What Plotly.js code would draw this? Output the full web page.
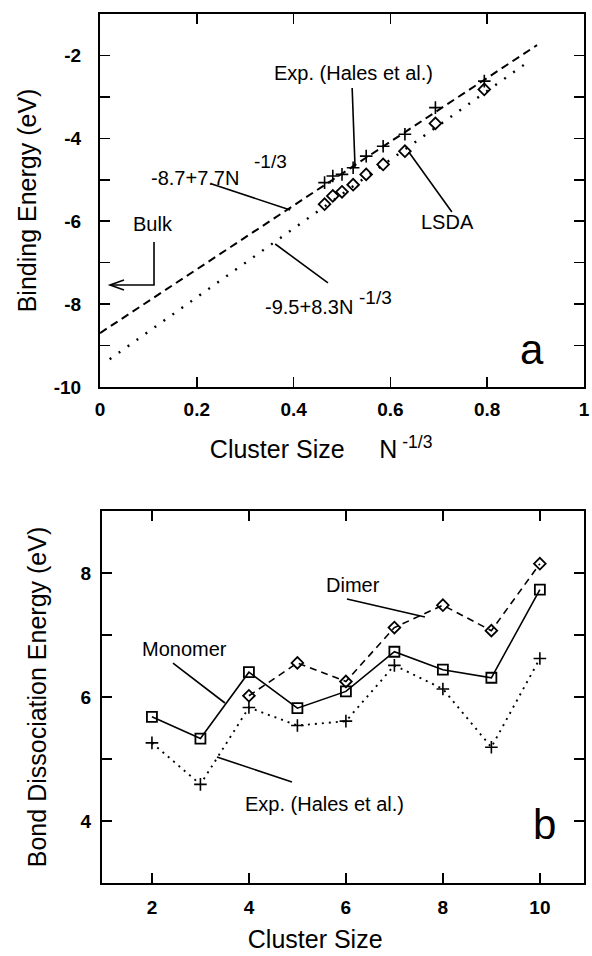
<!DOCTYPE html>
<html>
<head>
<meta charset="utf-8">
<script src="https://cdn.plot.ly/plotly-3.0.1.min.js"></script>
<style>
html,body{margin:0;padding:0;background:#fff;}
#chart{width:592px;height:956px;}
</style>
</head>
<body>
<div id="chart"></div>
<script>
// ---------- Panel (a): binding energy vs N^-1/3 ----------
const clusterN = [2, 3, 4, 5, 6, 7, 8, 9, 10];
const invCubeRootN = [0.794, 0.693, 0.630, 0.585, 0.550, 0.523, 0.500, 0.481, 0.464];
const expBinding = [-2.62, -3.26, -3.90, -4.19, -4.43, -4.71, -4.87, -4.91, -5.07];
const lsdaBinding = [-2.82, -3.64, -4.31, -4.63, -4.87, -5.12, -5.29, -5.39, -5.59];
const expFitX = [0, 0.903];
const expFitY = [-8.70, -1.75];
const lsdaFitX = [0.02, 0.89];
const lsdaFitY = [-9.33, -2.11];
const yTickValsA = [-10, -8, -6, -4, -2];
const yTickTextA = ['-10', '-8', '-6', '-4', '-2'];

// ---------- Panel (b): bond dissociation energy vs cluster size ----------
const sizeB = [2, 3, 4, 5, 6, 7, 8, 9, 10];
const monomer = [5.68, 5.33, 6.40, 5.82, 6.09, 6.73, 6.44, 6.31, 7.73];
const expDiss = [5.26, 4.59, 5.83, 5.54, 5.61, 6.51, 6.13, 5.19, 6.62];
const dimerSize = [4, 5, 6, 7, 8, 9, 10];
const dimer = [6.02, 6.55, 6.25, 7.12, 7.48, 7.07, 8.15];

const FONT = 'Liberation Sans, Arial, Helvetica, sans-serif';
const NB = '\u00A0';
const ZW = '\u200B';

const traces = [
  {x: expFitX, y: expFitY, xaxis: 'x', yaxis: 'y', mode: 'lines',
   line: {color: '#000', width: 2, dash: '8px,5px'}},
  {x: lsdaFitX, y: lsdaFitY, xaxis: 'x', yaxis: 'y', mode: 'lines',
   line: {color: '#000', width: 2.4, dash: '2px,9px'}},
  {x: invCubeRootN, y: expBinding, xaxis: 'x', yaxis: 'y', mode: 'markers',
   marker: {symbol: 'cross-thin', size: 9, color: '#000', line: {color: '#000', width: 1.6}}},
  {x: invCubeRootN, y: lsdaBinding, xaxis: 'x', yaxis: 'y', mode: 'markers',
   marker: {symbol: 'diamond-open', size: 9, color: '#000', line: {color: '#000', width: 1.8}}},

  {x: dimerSize, y: dimer, xaxis: 'x2', yaxis: 'y2', mode: 'lines+markers',
   line: {color: '#000', width: 1.6, dash: '7px,5px'},
   marker: {symbol: 'diamond-open', size: 9, color: '#000', line: {color: '#000', width: 1.8}}},
  {x: sizeB, y: monomer, xaxis: 'x2', yaxis: 'y2', mode: 'lines+markers',
   line: {color: '#000', width: 1.6},
   marker: {symbol: 'square-open', size: 10, color: '#000', line: {color: '#000', width: 1.8}}},
  {x: sizeB, y: expDiss, xaxis: 'x2', yaxis: 'y2', mode: 'lines+markers',
   line: {color: '#000', width: 1.9, dash: '2px,5px'},
   marker: {symbol: 'cross-thin', size: 9, color: '#000', line: {color: '#000', width: 1.6}}}
];

const axisCommon = {
  showline: true, linecolor: '#000', linewidth: 2, mirror: 'ticks',
  ticks: 'inside', ticklen: 10, tickwidth: 1.6, tickcolor: '#000',
  showgrid: false, zeroline: false,
  tickfont: {family: FONT, size: 19, color: '#000', weight: 'bold'}
};

const layout = {
  width: 592, height: 956,
  margin: {l: 100, r: 8, t: 14, b: 73},
  paper_bgcolor: '#fff', plot_bgcolor: '#fff',
  showlegend: false,
  font: {family: FONT, color: '#000'},
  xaxis: Object.assign({}, axisCommon, {
    anchor: 'y', domain: [0, 1], range: [0, 1], dtick: 0.2, tick0: 0,
    ticklabelstandoff: 4,
    title: {text: 'Cluster Size' + NB.repeat(5) + 'N<sup>' + NB + '-1/3</sup>' + NB.repeat(6) + ZW,
            font: {family: FONT, size: 25, color: '#000'}, standoff: 22}
  }),
  yaxis: Object.assign({}, axisCommon, {
    anchor: 'x', domain: [0.5708, 1], range: [-10, -1],
    tickmode: 'array', tickvals: yTickValsA, ticktext: yTickTextA,
    ticklabelstandoff: 13,
    minor: {dtick: 1, tick0: -10, ticks: 'inside', ticklen: 10, tickwidth: 1.6, tickcolor: '#000', showgrid: false},
    title: {text: 'Binding Energy (eV)', font: {family: FONT, size: 25, color: '#000'}, standoff: 10}
  }),
  xaxis2: Object.assign({}, axisCommon, {
    anchor: 'y2', domain: [0.0041, 1], range: [0.97, 10.91], dtick: 2, tick0: 0,
    ticklabelstandoff: 6,
    title: {text: 'Cluster Size' + NB.repeat(8) + ZW, font: {family: FONT, size: 25, color: '#000'}, standoff: 14}
  }),
  yaxis2: Object.assign({}, axisCommon, {
    anchor: 'x2', domain: [0, 0.4281], range: [3, 9], dtick: 2, tick0: 0,
    ticklabelstandoff: 5,
    minor: {dtick: 1, tick0: 0, ticks: 'inside', ticklen: 10, tickwidth: 1.6, tickcolor: '#000', showgrid: false},
    title: {text: 'Bond Dissociation Energy (eV)', font: {family: FONT, size: 25, color: '#000'}, standoff: 27}
  }),
  shapes: [
    // panel a leader lines
    {type: 'line', xref: 'x', yref: 'y', x0: 0.521, y0: -2.786, x1: 0.527, y1: -4.716, line: {color: '#000', width: 1.6}},
    {type: 'line', xref: 'x', yref: 'y', x0: 0.231, y0: -5.102, x1: 0.393, y1: -5.73, line: {color: '#000', width: 1.6}},
    {type: 'line', xref: 'x', yref: 'y', x0: 0.362, y0: -6.55, x1: 0.471, y1: -7.49, line: {color: '#000', width: 1.6}},
    {type: 'line', xref: 'x', yref: 'y', x0: 0.638, y0: -4.33, x1: 0.727, y1: -5.78, line: {color: '#000', width: 1.6}},
    // bulk arrow
    {type: 'path', xref: 'x', yref: 'y', path: 'M 0.1116,-6.502 L 0.1116,-7.54 L 0.0207,-7.54', line: {color: '#000', width: 1.6}},
    {type: 'path', xref: 'x', yref: 'y', path: 'M 0.0496,-7.419 L 0.0207,-7.54 L 0.0496,-7.66', line: {color: '#000', width: 1.6}},
    // panel b leader lines
    {type: 'line', xref: 'x2', yref: 'y2', x0: 6.022, y0: 7.581, x1: 7.63, y1: 7.29, line: {color: '#000', width: 1.6}},
    {type: 'line', xref: 'x2', yref: 'y2', x0: 2.434, y0: 6.548, x1: 3.506, y1: 5.903, line: {color: '#000', width: 1.6}},
    {type: 'line', xref: 'x2', yref: 'y2', x0: 3.341, y0: 5.032, x1: 4.888, y1: 4.629, line: {color: '#000', width: 1.6}}
  ],
  annotations: [
    {xref: 'x', yref: 'y', x: 0.523, y: -2.424, text: 'Exp. (Hales et al.)', showarrow: false, font: {size: 20}},
    {xref: 'x', yref: 'y', x: 0.101, y: -4.957, xanchor: 'left', text: '-8.7+7.7N', showarrow: false, font: {size: 20}},
    {xref: 'x', yref: 'y', x: 0.314, y: -4.571, xanchor: 'left', text: '-1/3', showarrow: false, font: {size: 19}},
    {xref: 'x', yref: 'y', x: 0.337, y: -8.07, xanchor: 'left', text: '-9.5+8.3N', showarrow: false, font: {size: 20}},
    {xref: 'x', yref: 'y', x: 0.531, y: -7.83, xanchor: 'left', text: '-1/3', showarrow: false, font: {size: 19}},
    {xref: 'x', yref: 'y', x: 0.1095, y: -6.067, text: 'Bulk', showarrow: false, font: {size: 20}},
    {xref: 'x', yref: 'y', x: 0.718, y: -6.02, text: 'LSDA', showarrow: false, font: {size: 20}},
    {xref: 'x', yref: 'y', x: 0.8926, y: -9.1, text: 'a', showarrow: false, font: {size: 42}},

    {xref: 'x2', yref: 'y2', x: 6.145, y: 7.806, text: 'Dimer', showarrow: false, font: {size: 20}},
    {xref: 'x2', yref: 'y2', x: 2.68, y: 6.774, text: 'Monomer', showarrow: false, font: {size: 20}},
    {xref: 'x2', yref: 'y2', x: 5.558, y: 4.274, text: 'Exp. (Hales et al.)', showarrow: false, font: {size: 20}},
    {xref: 'x2', yref: 'y2', x: 10.104, y: 3.95, text: 'b', showarrow: false, font: {size: 42}}
  ]
};

Plotly.newPlot('chart', traces, layout, {displayModeBar: false, staticPlot: true});
</script>
</body>
</html>
